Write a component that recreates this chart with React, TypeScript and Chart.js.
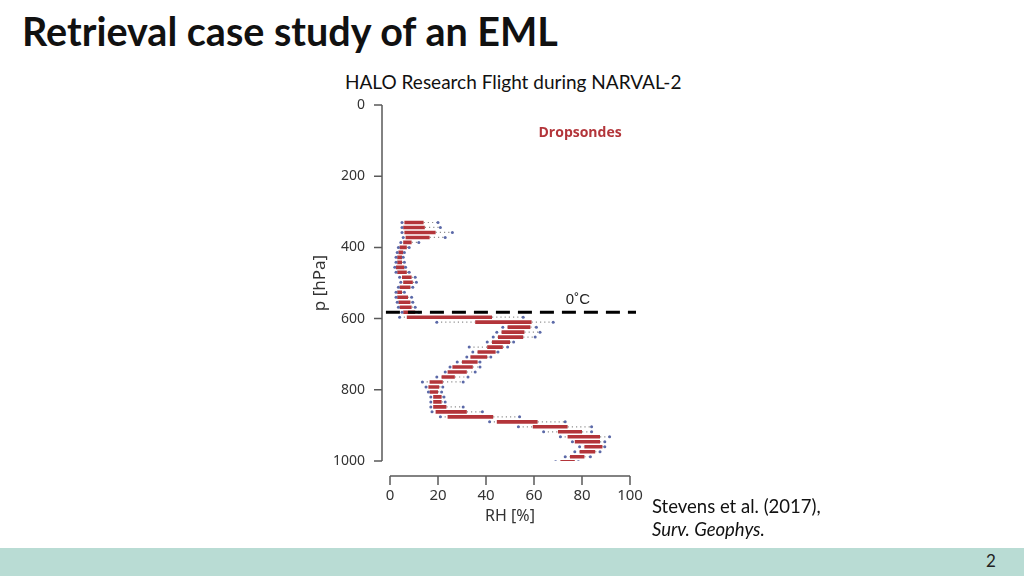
import React, { useEffect, useRef } from 'react';
import { Chart, registerables } from 'chart.js';

Chart.register(...registerables);

// Pressure levels (hPa) of each dropsonde bin
const pressureLevels = [
  330, 344, 358, 372, 386, 400, 414, 428, 442, 456, 470, 484, 498, 512, 526, 540, 554,
  568, 582, 596, 610, 624, 638, 652, 666, 680, 694, 708, 722, 736, 750, 764, 778, 792,
  806, 820, 834, 848, 862, 876, 890, 904, 918, 932, 946, 960, 974, 988, 1002,
];
// RH [%] statistics per level
const whiskerLow = [
  5, 5, 5, 5.5, 4.5, 3.5, 3, 2.5, 2.5, 2, 2.5, 4, 4.5, 3.5, 2.5, 2.5, 3,
  3.5, 5, 4, 19.5, 47, 44.5, 43, 40.5, 33, 34.5, 32, 28, 25, 23, 19.5, 13.5, 15,
  16, 17, 17, 17, 17.5, 21, 41.5, 53.5, 64, 71, 76, 79, 77, 73, 69,
];
const boxLow = [
  6, 5.5, 6, 6.5, 5.5, 4, 3.5, 3, 3, 2.5, 3, 5, 5.5, 4, 3, 3, 3.5,
  4, 5.5, 7, 35.5, 49, 46.5, 45, 42.5, 40.5, 36.5, 33.5, 30, 26, 24, 21.5, 16.5, 16,
  16.5, 18, 18, 18, 19, 24, 44.5, 59.5, 70, 74, 77, 81, 79, 75, 71,
];
const boxHigh = [
  14, 14.5, 19, 16.5, 9, 7, 5.5, 5, 5, 6, 7, 9, 9.5, 8.5, 5, 7.5, 8.5,
  9, 10.5, 42.5, 59, 58.5, 56, 55.5, 50, 47, 44, 40.5, 36.5, 34.5, 32, 27, 22, 20.5,
  20, 21.5, 21.5, 23.5, 32, 43, 61.5, 74, 80, 87.5, 87.5, 88.5, 85.5, 81, 77,
];
const whiskerHigh = [
  20, 21, 26, 23, 12, 8, 6, 5.5, 6, 6.5, 8, 10.5, 11, 9.5, 6, 9, 9.5,
  10.5, 12, 55.5, 68, 61, 62.5, 60.5, 51.5, 49, 45, 42, 37.5, 37.5, 35.5, 32.5, 30.5, 22,
  21.5, 22.5, 23, 30.5, 38.5, 54, 73, 84, 84, 91.5, 89.5, 89.5, 87.5, 83.5, 78.5,
];

const xTicks = [0, 20, 40, 60, 80, 100];
const yTicks = [0, 200, 400, 600, 800, 1000];
const freezingLevel = 582; // hPa, 0°C line
const freezingLineRH = [-1.7, 102.5];
const freezingLabel = { text: '0˚C', rh: 78.3, p: 548 };
const legendLabel = { text: 'Dropsondes', rh: 79.2, p: 78.7 };

const BOX_COLOR = '#b3353a';
const END_COLOR = '#5b69a8';
const WHISKER_COLOR = '#8f8f8f';
const AXIS_COLOR = '#5a5a5a';
const TEXT_COLOR = '#333333';
const AXIS_FONT = '"Noto Sans", "Open Sans", sans-serif';

const gap = { x: null as any, y: null as any };

const boxData = pressureLevels.flatMap((p, i) => [
  { x: boxLow[i], y: p },
  { x: boxHigh[i], y: p },
  gap,
]);
const whiskerData = pressureLevels.flatMap((p, i) => [
  { x: whiskerLow[i], y: p },
  { x: boxLow[i], y: p },
  gap,
  { x: boxHigh[i], y: p },
  { x: whiskerHigh[i], y: p },
  gap,
]);
const endData = pressureLevels.flatMap((p, i) => [
  { x: whiskerLow[i], y: p },
  { x: whiskerHigh[i], y: p },
]);
const freezingData = freezingLineRH.map((x) => ({ x, y: freezingLevel }));

const axesPlugin = {
  id: 'offsetAxes',
  afterDraw(chart: any) {
    const { ctx, scales } = chart;
    const xs = scales.x;
    const ys = scales.y;
    const area = chart.chartArea;
    ctx.save();
    ctx.strokeStyle = AXIS_COLOR;
    ctx.lineWidth = 1.5;
    // y axis
    const ax = area.left - 8;
    ctx.beginPath();
    ctx.moveTo(ax, ys.getPixelForValue(yTicks[0]));
    ctx.lineTo(ax, ys.getPixelForValue(yTicks[yTicks.length - 1]));
    yTicks.forEach((v) => {
      const py = ys.getPixelForValue(v);
      ctx.moveTo(ax - 8, py);
      ctx.lineTo(ax, py);
    });
    ctx.stroke();
    // x axis
    const ay = area.bottom + 15;
    ctx.beginPath();
    ctx.moveTo(xs.getPixelForValue(xTicks[0]), ay);
    ctx.lineTo(xs.getPixelForValue(xTicks[xTicks.length - 1]), ay);
    xTicks.forEach((v) => {
      const px = xs.getPixelForValue(v);
      ctx.moveTo(px, ay);
      ctx.lineTo(px, ay + 9);
    });
    ctx.stroke();
    // annotations
    ctx.fillStyle = BOX_COLOR;
    ctx.font = 'bold 14px "Open Sans", sans-serif';
    ctx.textAlign = 'center';
    ctx.textBaseline = 'middle';
    ctx.fillText(legendLabel.text, xs.getPixelForValue(legendLabel.rh), ys.getPixelForValue(legendLabel.p));
    ctx.fillStyle = '#222';
    ctx.font = '15px "Liberation Sans", Arial, sans-serif';
    ctx.fillText(freezingLabel.text, xs.getPixelForValue(freezingLabel.rh), ys.getPixelForValue(freezingLabel.p));
    ctx.restore();
  },
};

function RHChart() {
  const ref = useRef<HTMLCanvasElement | null>(null);
  useEffect(() => {
    if (!ref.current) return;
    const chart = new Chart(ref.current, {
      type: 'scatter',
      data: {
        datasets: [
          {
            data: freezingData,
            showLine: true,
            borderColor: '#000',
            borderWidth: 3,
            borderDash: [14, 8],
            pointRadius: 0,
            clip: false as any,
          },
          {
            data: endData,
            showLine: false,
            pointRadius: 1.5,
            pointBackgroundColor: END_COLOR,
            pointBorderWidth: 0,
          },
          {
            data: boxData,
            showLine: true,
            spanGaps: false,
            borderColor: BOX_COLOR,
            borderWidth: 3.6,
            borderCapStyle: 'butt',
            pointRadius: 0,
          },
          {
            data: whiskerData,
            showLine: true,
            spanGaps: false,
            borderColor: WHISKER_COLOR,
            borderWidth: 1.2,
            borderDash: [1.2, 3],
            pointRadius: 0,
          },
        ],
      },
      options: {
        animation: false,
        responsive: false,
        devicePixelRatio: 1,
        layout: { padding: { left: 310, right: 394, top: 105, bottom: 50 } },
        plugins: { legend: { display: false }, tooltip: { enabled: false }, title: { display: false } },
        scales: {
          x: {
            type: 'linear',
            position: 'bottom',
            min: 0,
            max: 100,
            grid: { display: false, drawTicks: false },
            border: { display: false },
            afterFit: (s: any) => { s.height = 65; },
            afterBuildTicks: (s: any) => { s.ticks = xTicks.map((value) => ({ value })); },
            ticks: {
              padding: 26,
              color: TEXT_COLOR,
              font: { family: AXIS_FONT, size: 15 },
              callback: (v: any) => String(v),
            },
            title: {
              display: true,
              text: 'RH [%]',
              color: TEXT_COLOR,
              padding: 0,
              font: { family: AXIS_FONT, size: 16 },
            },
          },
          y: {
            type: 'linear',
            reverse: true,
            min: 0,
            max: 1000,
            grid: { display: false, drawTicks: false },
            border: { display: false },
            afterFit: (s: any) => { s.width = 80; },
            afterBuildTicks: (s: any) => { s.ticks = yTicks.map((value) => ({ value })); },
            ticks: {
              padding: 25,
              color: TEXT_COLOR,
              font: { family: AXIS_FONT, size: 14 },
              callback: (v: any) => String(v),
            },
            title: {
              display: true,
              text: 'p [hPa]',
              color: TEXT_COLOR,
              padding: 0,
              font: { family: AXIS_FONT, size: 17 },
            },
          },
        },
      },
      plugins: [axesPlugin],
    } as any);
    return () => chart.destroy();
  }, []);
  return (
    <canvas
      ref={ref}
      width={1024}
      height={576}
      style={{ position: 'absolute', left: 0, top: 0, width: 1024, height: 576 }}
    />
  );
}

export default function App() {
  const slideFont = 'Lato, "Open Sans", sans-serif';
  return (
    <div
      style={{
        position: 'absolute',
        left: 0,
        top: 0,
        width: 1024,
        height: 576,
        background: '#fff',
        overflow: 'hidden',
        fontFamily: slideFont,
        color: '#111',
      }}
    >
      <div style={{ position: 'absolute', left: 22, top: 7, fontSize: 39.5, lineHeight: 1.2, fontWeight: 700, whiteSpace: 'nowrap' }}>
        Retrieval case study of an EML
      </div>
      <div style={{ position: 'absolute', left: 345, top: 71, fontSize: 19, lineHeight: 1.2, whiteSpace: 'nowrap' }}>
        HALO Research Flight during NARVAL-2
      </div>
      <RHChart />
      <div style={{ position: 'absolute', left: 652, top: 495, fontSize: 18.5, lineHeight: 1.2, whiteSpace: 'nowrap' }}>
        Stevens et al. (2017),
      </div>
      <div style={{ position: 'absolute', left: 652, top: 518, fontSize: 18.5, lineHeight: 1.2, fontStyle: 'italic', whiteSpace: 'nowrap' }}>
        Surv. Geophys.
      </div>
      <div style={{ position: 'absolute', left: 0, top: 548, width: 1024, height: 28, background: '#b9dcd4' }} />
      <div style={{ position: 'absolute', left: 986, top: 551, fontSize: 17, lineHeight: 1.2, color: '#222' }}>2</div>
    </div>
  );
}
